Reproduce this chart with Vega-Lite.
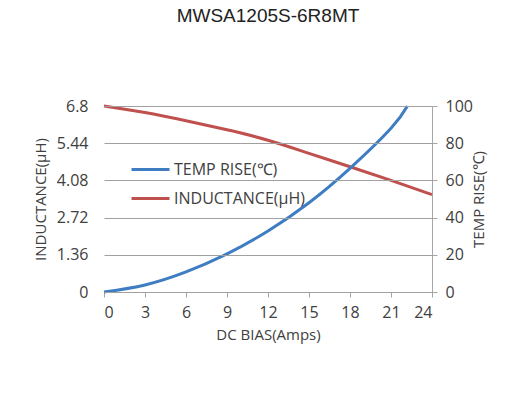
{
  "$schema": "https://vega.github.io/schema/vega-lite/v6.json",
  "autosize": {"type": "none"},
  "width": 328,
  "height": 186,
  "padding": {"left": 104, "top": 106, "right": 83, "bottom": 108},
  "background": "white",
  "title": {
    "text": "MWSA1205S-6R8MT",
    "anchor": "middle",
    "offset": 72,
    "fontSize": 19,
    "font": "Liberation Sans",
    "fontWeight": "normal",
    "color": "#222222"
  },
  "data": {
    "values": [
      {"bias": 0, "series": "INDUCTANCE(μH)", "value": 6.8},
      {"bias": 3, "series": "INDUCTANCE(μH)", "value": 6.56},
      {"bias": 6, "series": "INDUCTANCE(μH)", "value": 6.26},
      {"bias": 9, "series": "INDUCTANCE(μH)", "value": 5.93},
      {"bias": 12, "series": "INDUCTANCE(μH)", "value": 5.55},
      {"bias": 15, "series": "INDUCTANCE(μH)", "value": 5.07},
      {"bias": 18, "series": "INDUCTANCE(μH)", "value": 4.58},
      {"bias": 21, "series": "INDUCTANCE(μH)", "value": 4.08},
      {"bias": 24, "series": "INDUCTANCE(μH)", "value": 3.56},
      {"bias": 0, "series": "TEMP RISE(℃)", "value": 0},
      {"bias": 3, "series": "TEMP RISE(℃)", "value": 3.8},
      {"bias": 6, "series": "TEMP RISE(℃)", "value": 10.8},
      {"bias": 9, "series": "TEMP RISE(℃)", "value": 20.5},
      {"bias": 12, "series": "TEMP RISE(℃)", "value": 32.8},
      {"bias": 15, "series": "TEMP RISE(℃)", "value": 48},
      {"bias": 18, "series": "TEMP RISE(℃)", "value": 66.5},
      {"bias": 21, "series": "TEMP RISE(℃)", "value": 88},
      {"bias": 22.2, "series": "TEMP RISE(℃)", "value": 100}
    ]
  },
  "config": {
    "view": {"stroke": null},
    "axis": {
      "labelFont": "Open Sans",
      "labelFontSize": 16,
      "labelColor": "#404040",
      "titleFont": "Open Sans",
      "titleFontSize": 15,
      "titleFontWeight": "normal",
      "titleColor": "#404040",
      "domainColor": "#a6a6a6",
      "tickColor": "#a6a6a6",
      "tickSize": 5,
      "gridColor": "#a0a0a0",
      "gridOpacity": 1,
      "gridWidth": 1
    },
    "legend": {
      "labelFont": "Open Sans",
      "labelFontSize": 16,
      "labelColor": "#404040"
    }
  },
  "encoding": {
    "x": {
      "field": "bias",
      "type": "quantitative",
      "scale": {"domain": [0, 24], "nice": false},
      "axis": {
        "values": [0, 3, 6, 9, 12, 15, 18, 21, 24],
        "grid": false,
        "title": "DC  BIAS(Amps)",
        "labelPadding": 7,
        "titlePadding": 7
      }
    },
    "color": {
      "field": "series",
      "type": "nominal",
      "scale": {
        "domain": ["TEMP RISE(℃)", "INDUCTANCE(μH)"],
        "range": ["#3f7dc2", "#c0504d"]
      },
      "legend": {
        "title": null,
        "orient": "none",
        "legendX": 26,
        "legendY": 43,
        "symbolType": "stroke",
        "symbolSize": 1444,
        "symbolStrokeWidth": 3,
        "labelOffset": 3,
        "rowPadding": -3,
        "padding": 0
      }
    }
  },
  "layer": [
    {
      "transform": [{"filter": "datum.series === 'INDUCTANCE(μH)'"}],
      "mark": {"type": "line", "strokeWidth": 3, "interpolate": "natural"},
      "encoding": {
        "y": {
          "field": "value",
          "type": "quantitative",
          "scale": {"domain": [0, 6.8], "nice": false},
          "axis": {
            "values": [0, 1.36, 2.72, 4.08, 5.44, 6.8],
            "format": ".2~f",
            "grid": true,
            "zindex": 1,
            "title": "INDUCTANCE(μH)",
            "domain": false,
            "ticks": false,
            "labelPadding": 16,
            "titlePadding": 8
          }
        }
      }
    },
    {
      "transform": [{"filter": "datum.series === 'TEMP RISE(℃)'"}],
      "mark": {"type": "line", "strokeWidth": 3, "interpolate": "natural"},
      "encoding": {
        "y": {
          "field": "value",
          "type": "quantitative",
          "scale": {"domain": [0, 100], "nice": false},
          "axis": {
            "orient": "right",
            "values": [0, 20, 40, 60, 80, 100],
            "title": "TEMP RISE(℃)",
            "titleAngle": 270,
            "grid": false,
            "labelPadding": 8,
            "titlePadding": 14
          }
        }
      }
    }
  ],
  "resolve": {"scale": {"y": "independent"}}
}
